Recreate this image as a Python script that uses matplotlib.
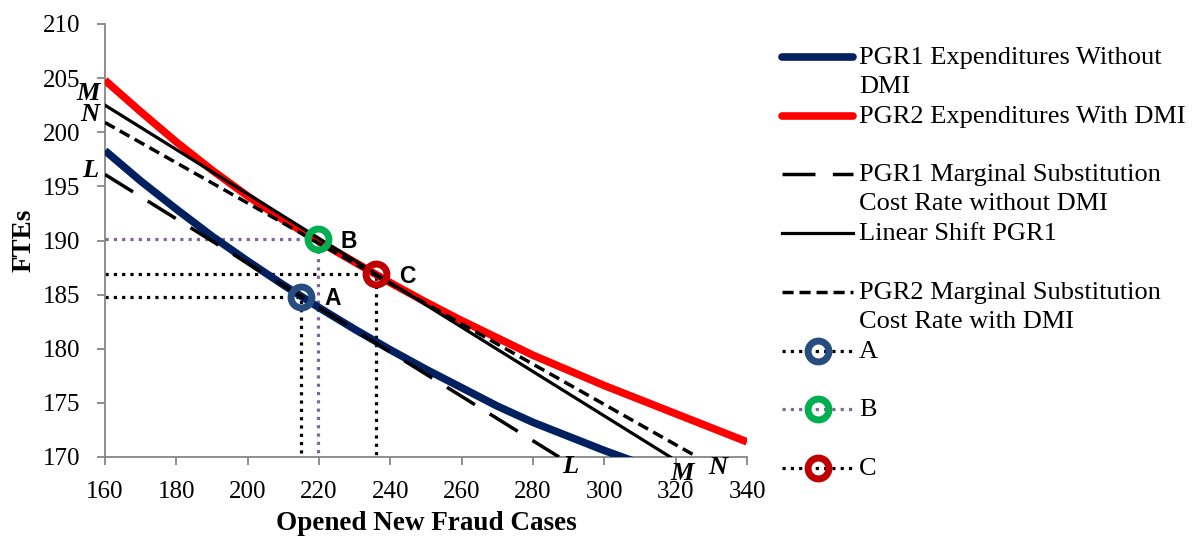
import matplotlib.pyplot as plt
import numpy as np

plt.rcParams['font.family'] = ['Liberation Serif', 'DejaVu Serif']

# expenditure curves
cases = [160, 170, 180, 190, 200, 210, 220, 230, 240, 250,
         260, 270, 280, 290, 300, 310]
pgr1_ftes = [198.3, 195.5, 192.9, 190.4, 188.1, 185.9, 183.8, 181.8, 179.9, 178.1,
             176.4, 174.7, 173.2, 171.9, 170.6, 169.4]
cases2 = [160, 170, 180, 190, 200, 210, 220, 230, 240, 250, 260, 270,
          280, 290, 300, 310, 320, 330, 340]
pgr2_ftes = [204.8, 201.9, 199.1, 196.5, 194.1, 191.9, 189.9, 188.0, 186.1, 184.3, 182.6, 181.0,
             179.4, 178.0, 176.6, 175.3, 174.0, 172.7, 171.4]

# straight lines, start and end
msc1_x = [160, 287.3]
msc1_y = [196.1, 170]
shift_x = [160, 318.5]
shift_y = [202.5, 170]
msc2_x = [160, 326.1]
msc2_y = [200.9, 170]

# points A, B, C
pt_names = ['A', 'B', 'C']
pt_x = [215, 219.6, 236]
pt_y = [184.8, 190.1, 186.9]
pt_colors = ['#264D7E', '#00B050', '#C00000']
guide_colors = ['black', '#8064A2', 'black']

labels = ['PGR1 Expenditures Without\nDMI', 'PGR2 Expenditures With DMI',
          'PGR1 Marginal Substitution\nCost Rate without DMI', 'Linear Shift PGR1',
          'PGR2 Marginal Substitution\nCost Rate with DMI', 'A', 'B', 'C']

fig = plt.figure(figsize=(11.96, 5.39), dpi=100)
ax = fig.add_axes([105 / 1196, 1 - 457 / 539, 642 / 1196, 433 / 539])

long_dash = (0, (9.5, 5))
short_dash = (0, (3.2, 1.7))
dots = (0, (1, 1.6))

ax.plot(cases, pgr1_ftes, color='#002060', lw=5.5, solid_capstyle='butt', zorder=3)
ax.plot(cases2, pgr2_ftes, color='#FF0000', lw=5.5, solid_capstyle='butt', zorder=3)
ax.plot(msc1_x, msc1_y, color='black', lw=2.5, linestyle=long_dash, zorder=4)
ax.plot(shift_x, shift_y, color='black', lw=2.3, zorder=4)
ax.plot(msc2_x, msc2_y, color='black', lw=2.5, linestyle=short_dash, zorder=4)

for n, x, y, c, gc in zip(pt_names, pt_x, pt_y, pt_colors, guide_colors):
    ax.plot([160, x, x], [y, y, 170], color=gc, lw=2.3, linestyle=dots, zorder=2)
    ax.plot([x], [y], marker='o', ms=15, mew=5, mec=c, mfc='none', zorder=6)
    ax.text(x + 6.5, y - 0.2, n, fontsize=16.5, fontweight='bold', family='Liberation Sans',
            va='center', ha='left')

# line tags
tag_kw = dict(fontsize=19, fontweight='bold', style='italic', ha='center', va='center')
ax.text(155.2, 203.6, 'M', **tag_kw)
ax.text(155.6, 201.6, 'N', **tag_kw)
ax.text(155.8, 196.5, 'L', **tag_kw)
ax.text(290.5, 169.1, 'L', clip_on=False, **tag_kw)
ax.text(321.8, 168.5, 'M', clip_on=False, **tag_kw)
ax.text(331.8, 169.0, 'N', clip_on=False, **tag_kw)

ax.set_xlim(160, 340)
ax.set_ylim(170, 210)
ax.set_xticks(np.arange(160, 341, 20))
ax.set_yticks(np.arange(170, 211, 5))
for s in ['top', 'right']:
    ax.spines[s].set_visible(False)
for s in ['left', 'bottom']:
    ax.spines[s].set_color('#868686')
    ax.spines[s].set_linewidth(1.3)
ax.tick_params(axis='both', direction='out', length=6, width=1.3, color='#868686',
               labelsize=18)
ax.tick_params(axis='y', pad=12)
ax.tick_params(axis='x', pad=11)
ax.set_xlabel('Opened New Fraud Cases', fontsize=19.5, fontweight='bold', labelpad=6)
ax.set_ylabel('FTEs', fontsize=19.5, fontweight='bold', labelpad=4)

# legend drawn by hand so handles sit on the first line of each label
lg = fig.add_axes([0, 0, 1, 1])
lg.set_xlim(0, 1196)
lg.set_ylim(539, 0)
lg.axis('off')
styles = [
    dict(color='#002060', lw=5.5, solid_capstyle='round'),
    dict(color='#FF0000', lw=5.5, solid_capstyle='round'),
    dict(color='black', lw=2.5, linestyle=long_dash),
    dict(color='black', lw=2.3),
    dict(color='black', lw=2.5, linestyle=short_dash),
]
for i, lab in enumerate(labels):
    yy = 57 + i * 58.7
    if i < 5:
        lg.plot([782, 853], [yy, yy], **styles[i])
    else:
        k = i - 5
        lg.plot([782, 853], [yy, yy], color=guide_colors[k], lw=2.3, linestyle=dots)
        lg.plot([817.5], [yy], marker='o', ms=15, mew=5, mec=pt_colors[k], mfc='none')
    lg.text(859, yy - 10, lab, fontsize=19, va='top', ha='left', linespacing=1.4)

fig.savefig('out.png', dpi=100)
